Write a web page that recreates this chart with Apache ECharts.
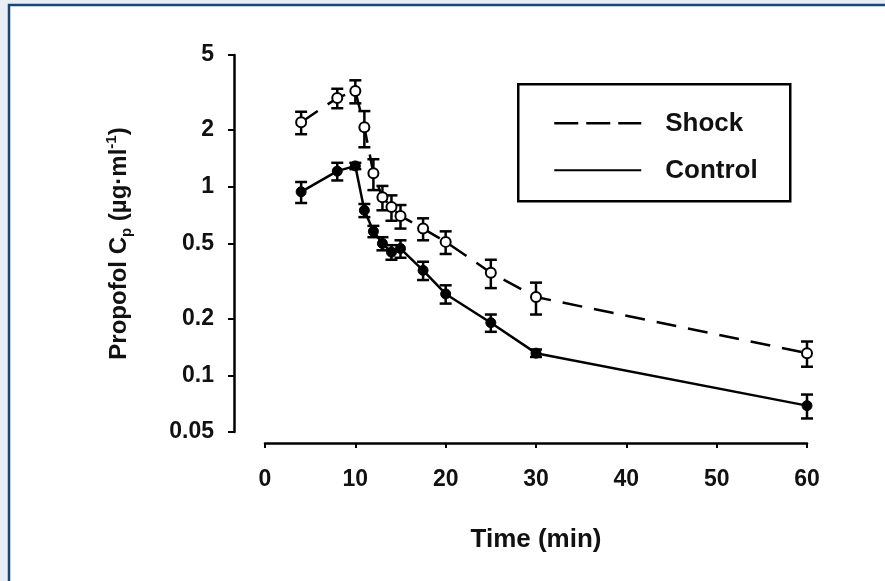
<!DOCTYPE html>
<html>
<head>
<meta charset="utf-8">
<script src="https://cdn.jsdelivr.net/npm/echarts@6/dist/echarts.min.js"></script>
<style>
  html, body { margin: 0; padding: 0; background: #e9eef5; }
  #chart { width: 885px; height: 581px; }
</style>
</head>
<body>
<div id="chart"></div>
<script>
// sampling times (min)
const times = [4, 8, 10, 11, 12, 13, 14, 15, 17.5, 20, 25, 30, 60];
// plasma propofol, mean and SEM (ug/ml)
const shockMean = [2.2, 2.96, 3.22, 2.07, 1.18, 0.88, 0.78, 0.70, 0.60, 0.51, 0.35, 0.26, 0.131];
const shockSem = [0.3, 0.35, 0.45, 0.45, 0.22, 0.13, 0.12, 0.10, 0.08, 0.07, 0.06, 0.05, 0.02];
const controlMean = [0.94, 1.21, 1.29, 0.75, 0.58, 0.50, 0.45, 0.47, 0.36, 0.27, 0.19, 0.131, 0.069];
const controlSem = [0.12, 0.13, 0.05, 0.06, 0.04, 0.04, 0.04, 0.05, 0.04, 0.03, 0.02, 0.006, 0.01];
// y tick labels (log axis)
const yTicks = [0.05, 0.1, 0.2, 0.5, 1, 2, 5];
const xTicks = [0, 10, 20, 30, 40, 50, 60];

const FONT = '"Liberation Sans", Arial, sans-serif';
const lg = Math.log10;

// log axis drawn as value axis on log10 values
function pts(mean) {
    return times.map((t, i) => [t, lg(mean[i])]);
}
function bars(mean, sem) {
    return times.map((t, i) => [t, lg(mean[i] - sem[i]), lg(mean[i] + sem[i])]);
}

function renderErr(params, api) {
    const p1 = api.coord([api.value(0), api.value(1)]);
    const p2 = api.coord([api.value(0), api.value(2)]);
    const w = 6;
    const st = { stroke: '#000', lineWidth: 2.5 };
    return {
        type: 'group',
        children: [
            { type: 'line', shape: { x1: p1[0], y1: p1[1], x2: p2[0], y2: p2[1] }, style: st },
            { type: 'line', shape: { x1: p1[0] - w, y1: p1[1], x2: p1[0] + w, y2: p1[1] }, style: st },
            { type: 'line', shape: { x1: p2[0] - w, y1: p2[1], x2: p2[0] + w, y2: p2[1] }, style: st }
        ]
    };
}

const chart = echarts.init(document.getElementById('chart'));

chart.setOption({
    animation: false,
    backgroundColor: '#e9eef5',
    graphic: [
        // page frame
        { type: 'rect', z: -10, shape: { x: 9, y: 5, width: 900, height: 600 },
          style: { fill: '#fff', stroke: '#1b4677', lineWidth: 2.5 } },
        // legend box
        { type: 'group', left: 517, top: 83, z: 10, children: [
            { type: 'rect', shape: { x: 0, y: 0, width: 272, height: 117 },
              style: { fill: '#fff', stroke: '#000', lineWidth: 2.5 } },
            { type: 'line', shape: { x1: 36, y1: 39, x2: 123, y2: 39 },
              style: { stroke: '#000', lineWidth: 2.5, lineDash: [24, 8] } },
            { type: 'text', x: 147, y: 40,
              style: { text: 'Shock', font: 'bold 26px ' + FONT, fill: '#111', verticalAlign: 'middle' } },
            { type: 'line', shape: { x1: 36, y1: 86, x2: 123, y2: 86 },
              style: { stroke: '#000', lineWidth: 2 } },
            { type: 'text', x: 147, y: 87,
              style: { text: 'Control', font: 'bold 26px ' + FONT, fill: '#111', verticalAlign: 'middle' } }
        ]}
    ],
    grid: { left: 265, right: 78, top: 55, bottom: 149 },
    xAxis: {
        type: 'value',
        min: 0,
        max: 60,
        interval: 10,
        offset: 11,
        name: 'Time (min)',
        nameLocation: 'middle',
        nameGap: 84,
        nameTextStyle: { fontFamily: FONT, fontWeight: 'bold', fontSize: 26, color: '#111' },
        axisLine: { onZero: false, lineStyle: { color: '#000', width: 2.5 } },
        axisTick: { length: 5, lineStyle: { color: '#000', width: 2 } },
        axisLabel: { margin: 25, fontFamily: FONT, fontWeight: 'bold', fontSize: 23, color: '#111',
                     customValues: xTicks },
        splitLine: { show: false }
    },
    yAxis: {
        type: 'value',
        min: lg(yTicks[0]),
        max: lg(yTicks[yTicks.length - 1]),
        offset: 31,
        name: 'Propofol C{sub|p} (µg·ml{sup|-1})',
        nameLocation: 'middle',
        nameGap: 100,
        nameTextStyle: {
            fontFamily: FONT, fontWeight: 'bold', fontSize: 24, color: '#111', lineHeight: 30,
            rich: {
                sub: { fontFamily: FONT, fontWeight: 'bold', fontSize: 15, color: '#111', verticalAlign: 'bottom', lineHeight: 30 },
                sup: { fontFamily: FONT, fontWeight: 'bold', fontSize: 15, color: '#111', verticalAlign: 'top', lineHeight: 30 }
            }
        },
        axisLine: { show: true, onZero: false, lineStyle: { color: '#000', width: 2.5 } },
        axisTick: { show: true, length: 6, lineStyle: { color: '#000', width: 2 },
                    customValues: yTicks.map(lg) },
        axisLabel: {
            margin: 20, fontFamily: FONT, fontWeight: 'bold', fontSize: 23, color: '#111',
            customValues: yTicks.map(lg),
            formatter: v => String(+Math.pow(10, v).toPrecision(2))
        },
        splitLine: { show: false }
    },
    series: [
        {
            name: 'Shock err', type: 'custom', z: 2,
            renderItem: renderErr, data: bars(shockMean, shockSem)
        },
        {
            name: 'Control err', type: 'custom', z: 2,
            renderItem: renderErr, data: bars(controlMean, controlSem)
        },
        {
            name: 'Shock', type: 'line', z: 3,
            data: pts(shockMean),
            symbol: 'circle', symbolSize: 10, showSymbol: true,
            itemStyle: { color: '#fff', borderColor: '#000', borderWidth: 2 },
            lineStyle: { color: '#000', width: 2.5, type: [20, 12] }
        },
        {
            name: 'Control', type: 'line', z: 3,
            data: pts(controlMean),
            symbol: 'circle', symbolSize: 10, showSymbol: true,
            itemStyle: { color: '#000', borderColor: '#000', borderWidth: 1 },
            lineStyle: { color: '#000', width: 2.5 }
        }
    ]
});
</script>
</body>
</html>
